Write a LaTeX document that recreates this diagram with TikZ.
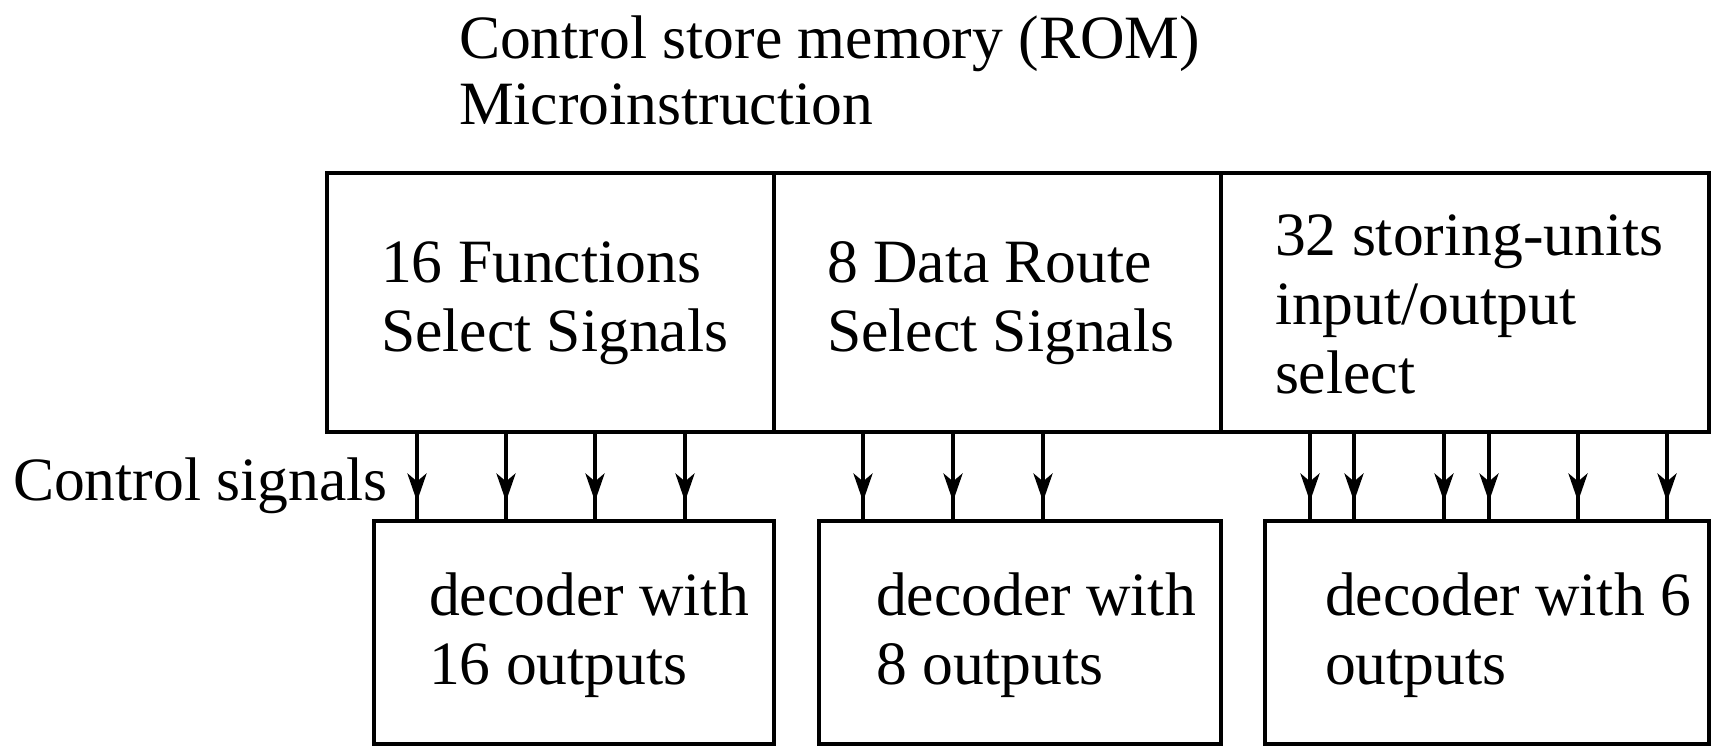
\documentclass[tikz,border=0pt]{standalone}
\usepackage{fontspec}
\setmainfont{Liberation Serif}
\usetikzlibrary{arrows.meta,decorations.markings}
\newcommand\pxbox[6][]{\node[boxnode,#1,minimum width={(#5-#3)*0.25pt},minimum height={(#6-#4)*0.25pt}] (#2) at ({(#3+#5)/2},{(#4+#6)/2}) {};}
\begin{document}
\begin{tikzpicture}[x=0.25pt,y=-0.25pt,
  boxnode/.style={draw,line width=0.8pt,inner sep=0pt,outer sep=0pt},
  lbl/.style={anchor=base west,inner sep=0pt,outer sep=0pt,align=left,font=\fontsize{15.4pt}{17.25pt}\selectfont},
  sig/.style={line width=0.8pt,postaction={decorate},decoration={markings,mark=at position 0.78 with {\arrow{Stealth[length=7pt,width=4.8pt,inset=2pt]}}}}]
\useasboundingbox (0,0) rectangle (1713,747);
% title (base anchor = baseline of last line)
\node[lbl,font=\fontsize{15.4pt}{16.5pt}\selectfont] (title) at (459,125) {Control store memory (ROM)\\Microinstruction};
% top boxes
\pxbox{top1}{327}{173}{774}{432}
\pxbox{top2}{774}{173}{1221}{432}
\pxbox{top3}{1221}{173}{1709}{432}
\node[lbl] (t1) at (381,352) {16 Functions\\Select Signals};
\node[lbl] (t2) at (827,352) {8 Data Route\\Select Signals};
\node[lbl] (t3) at (1275,394) {32 storing-units\\input/output\\select};
% decoders
\pxbox{dec1}{374}{521}{774}{744}
\pxbox{dec2}{819}{521}{1221}{744}
\pxbox{dec3}{1265}{521}{1709}{744}
\node[lbl] (d1) at (429,685) {decoder with\\16 outputs};
\node[lbl] (d2) at (876,685) {decoder with\\8 outputs};
\node[lbl] (d3) at (1325,685) {decoder with 6\\outputs};
% label
\node[lbl] (ctl) at (13,500) {Control signals};
% signal x positions
\foreach \n/\x in {a1/417,a2/506,a3/595,a4/685,b1/863,b2/953,b3/1043,c1/1310,c2/1354,c3/1444,c4/1489,c5/1578,c6/1667}
  \coordinate (\n) at (\x,0);
\foreach \n in {a1,a2,a3,a4} \draw[sig] (top1.south -| \n) -- (dec1.north -| \n);
\foreach \n in {b1,b2,b3} \draw[sig] (top2.south -| \n) -- (dec2.north -| \n);
\foreach \n in {c1,c2,c3,c4,c5,c6} \draw[sig] (top3.south -| \n) -- (dec3.north -| \n);
\end{tikzpicture}
\end{document}
